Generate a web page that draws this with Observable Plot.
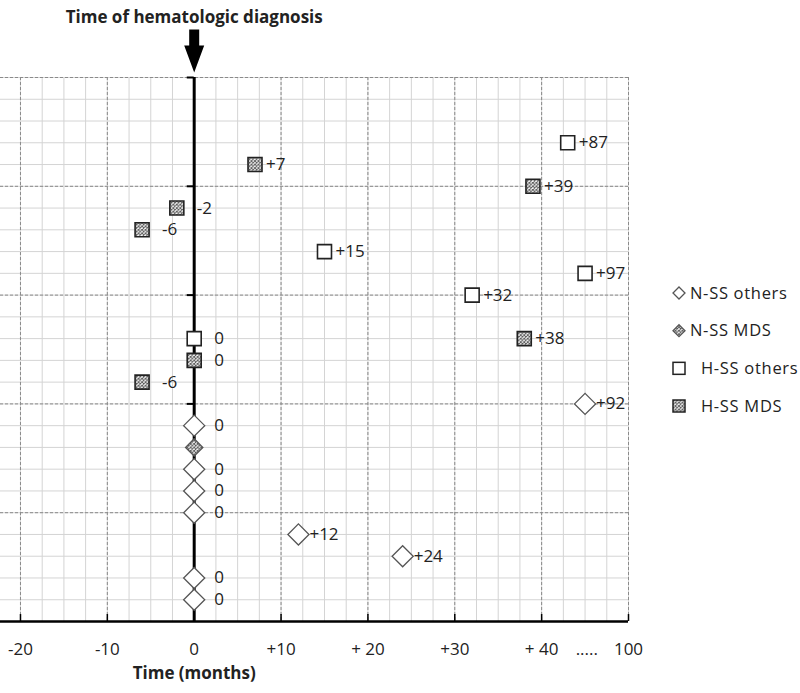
<!DOCTYPE html>
<html><head><meta charset="utf-8">
<script src="https://cdn.jsdelivr.net/npm/d3@7"></script>
<script src="https://cdn.jsdelivr.net/npm/@observablehq/plot@0.6"></script>
<style>body{margin:0;background:#fff}</style>
</head><body><div id="chart"></div>
<script>
// ---- data ----
const groups = ["N-SS others", "N-SS MDS", "H-SS others", "H-SS MDS"];
const months = [43, 7, 39, -2, -6, 15, 45, 32, 0, 38, 0, -6, 45, 0, 0, 0, 0, 0, 12, 24, 0, 0];
const rows   = [3, 4, 5, 6, 7, 8, 9, 10, 12, 12, 13, 14, 15, 16, 17, 18, 19, 20, 21, 22, 23, 24];
const groupOf = ["H-SS others","H-SS MDS","H-SS MDS","H-SS MDS","H-SS MDS","H-SS others","H-SS others","H-SS others",
  "H-SS others","H-SS MDS","H-SS MDS","H-SS MDS","N-SS others","N-SS others","N-SS MDS","N-SS others",
  "N-SS others","N-SS others","N-SS others","N-SS others","N-SS others","N-SS others"];
const labels = ["+87","+7","+39","-2","-6","+15","+97","+32","0","+38","0","-6","+92","0","","0","0","0","+12","+24","0","0"];
const tickValues = [-20, -10, 0, 10, 20, 30, 40, 50];
const tickLabels = ["-20", "-10", "0", "+10", "+ 20", "+30", "+ 40", "100"];
const breakTick = [45.2];
const breakLabel = ".....";
const titleText = "Time of hematologic diagnosis";
const xTitle = "Time (months)";

const data = months.map((m, i) => ({x: m, row: rows[i], group: groupOf[i], label: labels[i]}));
const minorX = d3.range(-22.5, 50.01, 2.5);
const minorY = d3.range(0, 25);
const majorY = [0, 5, 10, 15, 20];
const FONT = "'Open Sans', Lato, sans-serif";

const arrowSymbol = {
  draw(ctx) {
    ctx.moveTo(0, 0); ctx.lineTo(-10, -27); ctx.lineTo(-5, -27); ctx.lineTo(-5, -43);
    ctx.lineTo(5, -43); ctx.lineTo(5, -27); ctx.lineTo(10, -27); ctx.closePath();
  }
};

const byGroup = g => data.filter(d => d.group === g);

const svg = Plot.plot({
  width: 800, height: 693,
  marginTop: 77, marginBottom: 72, marginLeft: 0, marginRight: 172,
  style: {fontFamily: FONT, background: "#fff"},
  x: {domain: [-22.3, 50], axis: null},
  y: {domain: [0, 25], reverse: true, axis: null},
  marks: [
    Plot.ruleX(minorX, {stroke: "#d4d4d4", strokeWidth: 1}),
    Plot.ruleY(minorY, {stroke: "#d4d4d4", strokeWidth: 1}),
    Plot.ruleX(tickValues, {stroke: "#8a8a8a", strokeWidth: 1, strokeDasharray: "3,2"}),
    Plot.ruleY(majorY, {stroke: "#8a8a8a", strokeWidth: 1, strokeDasharray: "3,2"}),
    Plot.ruleY([25], {stroke: "#000", strokeWidth: 2.5}),
    Plot.ruleX(tickValues, {y1: 25, y2: 24.68, stroke: "#000", strokeWidth: 1.5}),
    Plot.ruleX([0], {y1: 0, y2: 25, stroke: "#000", strokeWidth: 3}),
    Plot.ruleY(majorY, {x1: -0.8, x2: 0, stroke: "#000", strokeWidth: 2}),
    Plot.axisX({ticks: tickValues, tickFormat: (d, i) => tickLabels[i], tickSize: 0, tickPadding: 21,
      label: null, fontSize: 17, fill: "#222", fontFamily: FONT}),
    Plot.axisX({ticks: breakTick, tickFormat: () => breakLabel, tickSize: 0, tickPadding: 21,
      label: null, fontSize: 17, fill: "#222", fontFamily: FONT}),
    Plot.text([xTitle], {x: () => 0, text: d => d, frameAnchor: "bottom", dy: 57, fontWeight: "bold",
      fontSize: 17, fill: "#222", fontFamily: FONT}),
    Plot.text([titleText], {x: () => 0, text: d => d, frameAnchor: "top", dy: -67, fontWeight: "bold",
      fontSize: 17, fill: "#222", fontFamily: FONT}),
    Plot.dot([0], {x: d => d, frameAnchor: "top", dy: -5, symbol: arrowSymbol, fill: "#000", stroke: "none"}),
    Plot.dot(byGroup("N-SS others"), {x: "x", y: "row", symbol: "diamond2", r: 9.5, fill: "#fff", stroke: "#555", strokeWidth: 1.3}),
    Plot.dot(byGroup("N-SS MDS"), {x: "x", y: "row", symbol: "diamond2", r: 7.8, fill: "url(#mds)", stroke: "#555", strokeWidth: 1.3}),
    Plot.dot(byGroup("H-SS others"), {x: "x", y: "row", symbol: "square", r: 7.9, fill: "#fff", stroke: "#222", strokeWidth: 1.6}),
    Plot.dot(byGroup("H-SS MDS"), {x: "x", y: "row", symbol: "square", r: 7.9, fill: "url(#mds)", stroke: "#222", strokeWidth: 1.6}),
    Plot.text(data.filter(d => d.label.startsWith("+")), {x: "x", y: "row", text: "label", dx: 11, textAnchor: "start",
      fontSize: 17, fill: "#222", fontFamily: FONT}),
    Plot.text(data.filter(d => d.label && !d.label.startsWith("+")), {x: "x", y: "row", text: "label", dx: 20, textAnchor: "start",
      fontSize: 17, fill: "#222", fontFamily: FONT})
  ]
});

// hatch pattern for MDS
const s = d3.select(svg);
const defs = s.insert("defs", ":first-child");
const pat = defs.append("pattern").attr("id", "mds").attr("patternUnits", "userSpaceOnUse")
  .attr("width", 3.5).attr("height", 3.5);
pat.append("rect").attr("width", 3.5).attr("height", 3.5).attr("fill", "#fff");
pat.append("path").attr("d", "M0,0L3.5,3.5M3.5,0L0,3.5").attr("stroke", "#555").attr("stroke-width", 0.9);

// legend
const legendY = d3.scalePoint().domain(groups).range([293, 406]);
const lg = s.append("g").attr("font-family", FONT).attr("font-size", 16.5).attr("fill", "#222")
  .attr("text-anchor", "start").attr("letter-spacing", "0.7px");
groups.forEach(g => {
  const y = legendY(g);
  const item = lg.append("g").attr("transform", `translate(679,${y})`);
  const mds = g.endsWith("MDS");
  if (g.startsWith("N")) {
    item.append("path").attr("d", "M0,-6L6,0L0,6L-6,0Z").attr("fill", mds ? "url(#mds)" : "#fff")
      .attr("stroke", "#555").attr("stroke-width", 1.3);
    item.append("text").attr("x", 11).attr("dy", "0.35em").text(g);
  } else {
    item.append("rect").attr("x", -6).attr("y", -6).attr("width", 12).attr("height", 12)
      .attr("fill", mds ? "url(#mds)" : "#fff").attr("stroke", "#222").attr("stroke-width", 1.5);
    item.append("text").attr("x", 22).attr("dy", "0.35em").text(g);
  }
});

document.getElementById("chart").append(svg);
</script>
</body></html>
